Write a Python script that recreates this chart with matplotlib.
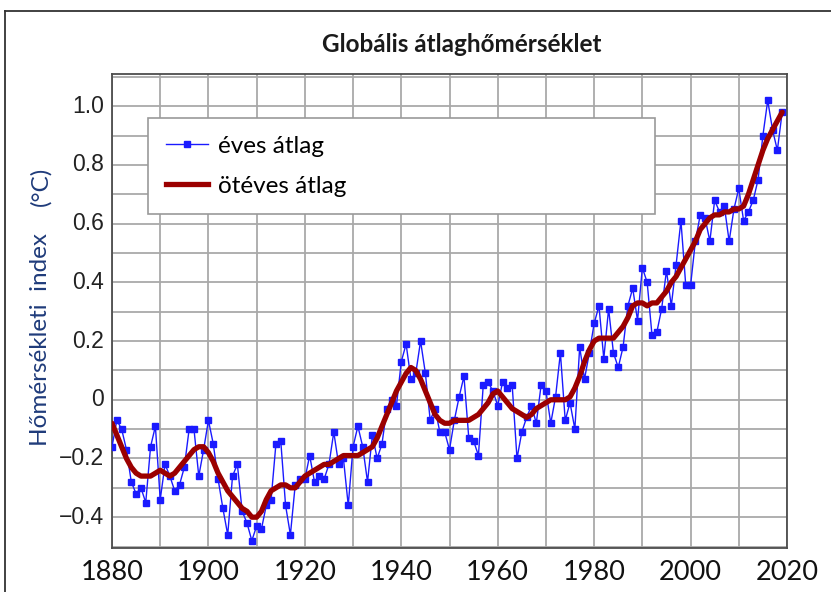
import numpy as np
import matplotlib.pyplot as plt
from matplotlib.lines import Line2D

# Évek és hőmérsékleti index (°C)
evek = list(range(1880, 2020))

eves_atlag = [
    -0.16, -0.07, -0.10, -0.17, -0.28, -0.32, -0.30, -0.35, -0.16, -0.09,
    -0.34, -0.22, -0.26, -0.31, -0.29, -0.23, -0.10, -0.10, -0.26, -0.17,
    -0.07, -0.15, -0.27, -0.37, -0.46, -0.26, -0.22, -0.38, -0.42, -0.48,
    -0.43, -0.44, -0.36, -0.34, -0.15, -0.14, -0.36, -0.46, -0.29, -0.27,
    -0.27, -0.19, -0.28, -0.26, -0.27, -0.22, -0.11, -0.22, -0.20, -0.36,
    -0.16, -0.09, -0.16, -0.28, -0.12, -0.20, -0.15, -0.03, 0.00, -0.02,
    0.13, 0.19, 0.07, 0.09, 0.20, 0.09, -0.07, -0.03, -0.11, -0.11,
    -0.17, -0.07, 0.01, 0.08, -0.13, -0.14, -0.19, 0.05, 0.06, 0.03,
    -0.02, 0.06, 0.04, 0.05, -0.20, -0.11, -0.06, -0.02, -0.08, 0.05,
    0.03, -0.08, 0.01, 0.16, -0.07, -0.01, -0.10, 0.18, 0.07, 0.16,
    0.26, 0.32, 0.14, 0.31, 0.16, 0.11, 0.18, 0.32, 0.38, 0.27,
    0.45, 0.40, 0.22, 0.23, 0.31, 0.44, 0.32, 0.46, 0.61, 0.39,
    0.39, 0.54, 0.63, 0.62, 0.54, 0.68, 0.64, 0.66, 0.54, 0.65,
    0.72, 0.61, 0.64, 0.68, 0.75, 0.90, 1.02, 0.92, 0.85, 0.98,
]

oteves_atlag = [
    -0.08, -0.12, -0.16, -0.20, -0.23, -0.25, -0.26, -0.26, -0.26, -0.25,
    -0.24, -0.25, -0.26, -0.25, -0.23, -0.21, -0.19, -0.17, -0.16, -0.16,
    -0.18, -0.21, -0.25, -0.28, -0.31, -0.33, -0.35, -0.37, -0.38, -0.40,
    -0.40, -0.38, -0.34, -0.31, -0.30, -0.29, -0.29, -0.30, -0.30, -0.28,
    -0.26, -0.25, -0.24, -0.23, -0.22, -0.22, -0.21, -0.20, -0.19, -0.19,
    -0.19, -0.19, -0.18, -0.17, -0.16, -0.13, -0.09, -0.05, -0.01, 0.03,
    0.06, 0.09, 0.11, 0.10, 0.07, 0.03, -0.01, -0.05, -0.07, -0.08,
    -0.08, -0.07, -0.07, -0.07, -0.07, -0.06, -0.05, -0.03, -0.01, 0.02,
    0.03, 0.01, -0.01, -0.03, -0.04, -0.05, -0.06, -0.05, -0.03, -0.02,
    -0.01, 0.00, 0.00, 0.00, 0.00, 0.01, 0.04, 0.08, 0.13, 0.17,
    0.20, 0.21, 0.21, 0.21, 0.21, 0.23, 0.25, 0.28, 0.32, 0.33,
    0.33, 0.32, 0.33, 0.33, 0.35, 0.37, 0.40, 0.42, 0.45, 0.48,
    0.51, 0.54, 0.58, 0.60, 0.62, 0.63, 0.63, 0.64, 0.64, 0.65,
    0.65, 0.66, 0.70, 0.75, 0.80, 0.85, 0.89, 0.92, 0.95, 0.98,
]

x_ticks = [1880, 1900, 1920, 1940, 1960, 1980, 2000, 2020]
y_ticks = [-0.4, -0.2, 0, 0.2, 0.4, 0.6, 0.8, 1.0]
y_labels = ['\u22120.4', '\u22120.2', '0', '0.2', '0.4', '0.6', '0.8', '1.0']

calibri = ['Lato', 'DejaVu Sans']

fig = plt.figure(figsize=(8.31, 5.92), dpi=100)
W, H = 831, 592
ax = fig.add_axes([112 / W, (H - 548) / H, 675 / W, 474 / H])

ax.plot(evek, eves_atlag, color='#1a1aff', linewidth=1.0, marker='s',
        markersize=4.2, zorder=3)
ax.plot(evek, oteves_atlag, color='#9b0000', linewidth=3.8, zorder=4,
        solid_capstyle='round')

ax.set_xlim(1880, 2020)
ax.set_ylim(-0.505, 1.11)
ax.set_xticks(np.arange(1880, 2021, 10))
ax.set_yticks(np.arange(-0.5, 1.11, 0.1))
ax.grid(True, color='#a9a9a9', linewidth=1.3)
ax.set_axisbelow(True)
ax.tick_params(length=0, labelleft=False, labelbottom=False)
for s in ax.spines.values():
    s.set_color('#4d4d4d')
    s.set_linewidth(1.3)

# tengelyfeliratok kézzel, hogy a rács 10 évenként / 0.1-enként maradjon
for xt in x_ticks:
    ax.text(xt, -0.545, str(xt), ha='center', va='top', fontsize=19.5,
            family=calibri, color='#111111', clip_on=False)
for yt, lab in zip(y_ticks, y_labels):
    ax.text(1878.3, yt, lab, ha='right', va='center', fontsize=16.5,
            family='Liberation Sans', color='#222222', clip_on=False)

fig.text(462 / W, 1 - 45 / H, 'Globális átlaghőmérséklet', ha='center',
         va='center', fontsize=17.5, fontweight='bold', family=calibri,
         color='#1a1a1a')
fig.text(41 / W, 1 - 340 / H, 'Hőmérsékleti  index', rotation=90, ha='center',
         va='center', fontsize=17.5, family=calibri, color='#1f3b7a')
fig.text(41 / W, 1 - 186 / H, '(°C)', rotation=90, ha='center',
         va='center', fontsize=17.5, family=calibri, color='#1f3b7a')

handles = [
    Line2D([], [], color='#1a1aff', linewidth=1.0, marker='s', markersize=4.2),
    Line2D([], [], color='#9b0000', linewidth=3.8),
]
x0 = (148 - 112) / 675
y_top = (548 - 118) / 474
leg = ax.legend(handles, ['éves átlag', 'ötéves átlag'], loc='upper left',
                bbox_to_anchor=(x0, y_top - 0.3, (655 - 148) / 675, 0.3),
                mode='expand', prop={'family': calibri, 'size': 17.5},
                frameon=True, fancybox=False, framealpha=1,
                edgecolor='#9a9a9a', borderpad=0.72, labelspacing=0.8,
                handlelength=1.75, handletextpad=0.4, borderaxespad=0)
leg.get_frame().set_linewidth(1.2)

# külső keret (bal és felső vonal)
fig.add_artist(Line2D([5 / W, 5 / W], [0, 1 - 11 / H], color='#333333',
                      linewidth=1.3, transform=fig.transFigure))
fig.add_artist(Line2D([5 / W, 1], [1 - 11 / H, 1 - 11 / H], color='#333333',
                      linewidth=1.3, transform=fig.transFigure))

fig.savefig('out.png', dpi=100)
